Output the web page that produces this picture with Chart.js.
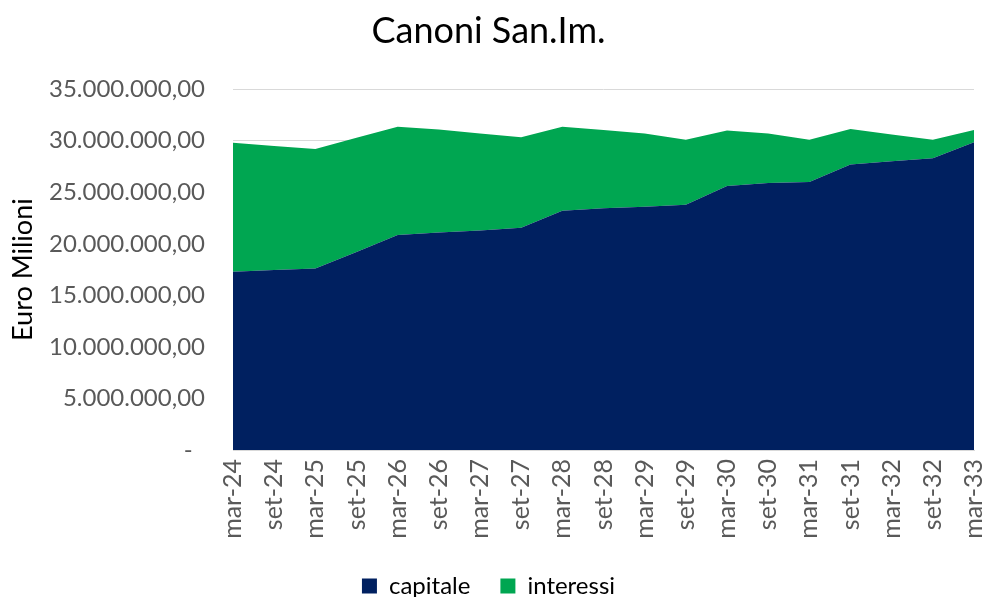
<!DOCTYPE html>
<html>
<head>
<meta charset="utf-8">
<script src="https://cdn.jsdelivr.net/npm/chart.js@4/dist/chart.umd.min.js"></script>
<style>
  html, body { margin: 0; padding: 0; background: #ffffff; }
  #wrap { width: 989px; height: 597px; position: relative; }
</style>
</head>
<body>
<div id="wrap"><canvas id="c" width="989" height="597"></canvas></div>
<script>
const categories = ["mar-24","set-24","mar-25","set-25","mar-26","set-26","mar-27","set-27","mar-28","set-28","mar-29","set-29","mar-30","set-30","mar-31","set-31","mar-32","set-32","mar-33"];
const capitale = [17300000,17450000,17600000,19200000,20850000,21100000,21300000,21550000,23200000,23450000,23600000,23800000,25600000,25900000,26000000,27700000,28000000,28300000,29850000];
const interessi = [12500000,12050000,11600000,11100000,10500000,10000000,9400000,8800000,8150000,7600000,7100000,6300000,5400000,4800000,4100000,3450000,2600000,1800000,1200000];
const yTicks = [0,5000000,10000000,15000000,20000000,25000000,30000000,35000000];

const FONT = "Lato";
function fmt(v) {
  if (v === 0) return "-  ";
  const parts = Math.round(v).toString().replace(/\B(?=(\d{3})+(?!\d))/g, ".");
  return parts + ",00";
}

new Chart(document.getElementById("c"), {
  type: "line",
  data: {
    labels: categories,
    datasets: [
      { label: "capitale", data: capitale, backgroundColor: "#002060", borderColor: "#002060",
        borderWidth: 0, pointRadius: 0, fill: "origin", tension: 0 },
      { label: "interessi", data: interessi, backgroundColor: "#00A651", borderColor: "#00A651",
        borderWidth: 0, pointRadius: 0, fill: "-1", tension: 0 }
    ]
  },
  options: {
    responsive: false,
    animation: false,
    layout: { padding: { left: 3, right: 15, top: 0, bottom: -11 } },
    plugins: {
      title: { display: true, text: "Canoni San.Im.", color: "#000000",
        font: { family: FONT, size: 36, weight: "normal" }, padding: { top: 10, bottom: 36 } },
      legend: { position: "bottom",
        labels: { color: "#000000", font: { family: FONT, size: 24 }, boxWidth: 15, boxHeight: 15, padding: 30 } },
      tooltip: { enabled: false }
    },
    scales: {
      x: {
        offset: false,
        grid: { display: false, drawTicks: false },
        border: { display: true, color: "#d9d9d9" },
        ticks: { color: "#595959", font: { family: FONT, size: 25 }, maxRotation: 90, minRotation: 90, autoSkip: false, padding: 9 },
        afterFit: function(s) { s.height = 94; s.paddingLeft = 0; s.paddingRight = 0; }
      },
      y: {
        stacked: true,
        min: 0, max: 35000000,
        afterBuildTicks: function(s) { s.ticks = yTicks.map(v => ({ value: v })); },
        grid: { color: "#d9d9d9", drawTicks: false },
        border: { display: false },
        ticks: { color: "#595959", font: { family: FONT, size: 24 }, padding: 28, callback: (v) => fmt(v) },
        title: { display: true, text: "Euro Milioni", color: "#000000", font: { family: FONT, size: 27 } },
        afterFit: function(s) { s.width = 230; }
      }
    }
  }
});
</script>
</body>
</html>
